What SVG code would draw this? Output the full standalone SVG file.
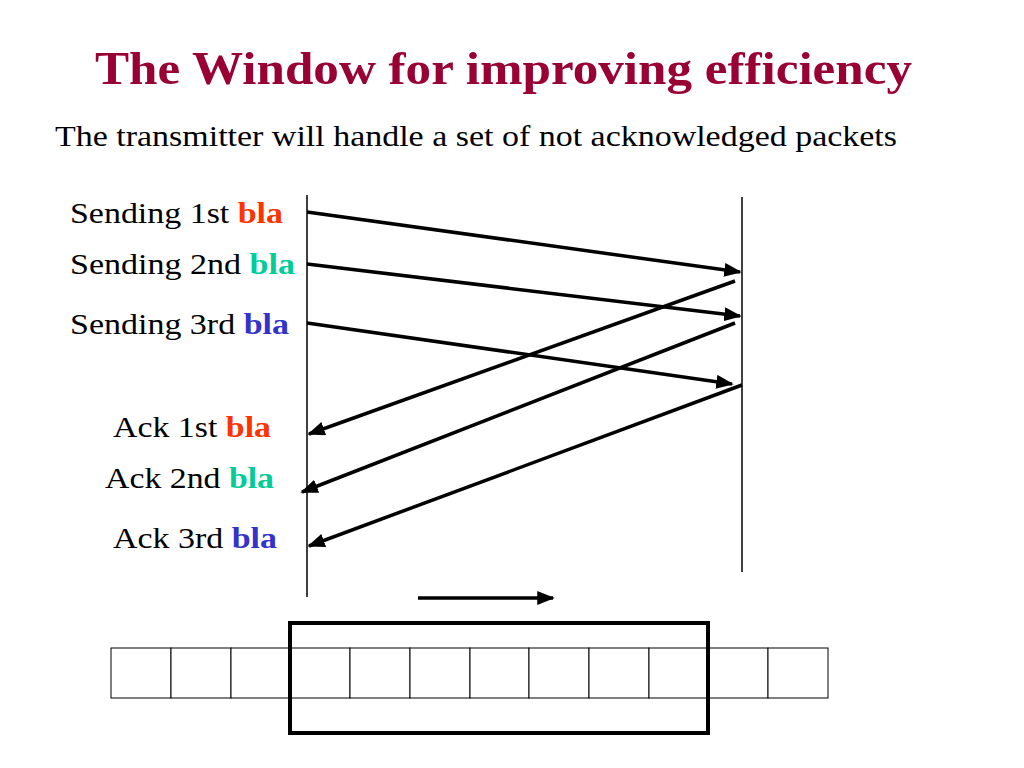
<svg xmlns="http://www.w3.org/2000/svg" width="1024" height="768" viewBox="0 0 1024 768">
<style>
text{font-family:"Liberation Serif","Times New Roman",serif;fill:#000}
.lbl{font-size:29px}
.b{font-weight:bold}
.r{fill:#ff3300}.g{fill:#00cc99}.u{fill:#3333cc}
.ln{stroke:#000;stroke-width:1.5}
.ar{stroke:#000;stroke-width:3.5;marker-end:url(#ah)}
.cell{fill:#fff;stroke:#000;stroke-width:1}
</style>
<defs><marker id="ah" markerWidth="5" markerHeight="4" refX="4.5" refY="2" orient="auto" markerUnits="strokeWidth"><path d="M0,0L5,2L0,4Z" fill="#000"/></marker></defs>
<rect width="1024" height="768" fill="#fff"/>
<text x="95" y="84" font-size="47" font-weight="bold" textLength="817" lengthAdjust="spacingAndGlyphs" style="fill:#990033">The Window for improving efficiency</text>
<text x="55" y="146" font-size="29" textLength="842" lengthAdjust="spacingAndGlyphs">The transmitter will handle a set of not acknowledged packets</text>
<g id="labels">
<text class="lbl" x="70" y="223" textLength="213" lengthAdjust="spacingAndGlyphs">Sending 1st <tspan class="b r">bla</tspan></text>
<text class="lbl" x="70" y="274" textLength="225" lengthAdjust="spacingAndGlyphs">Sending 2nd <tspan class="b g">bla</tspan></text>
<text class="lbl" x="70" y="334" textLength="219" lengthAdjust="spacingAndGlyphs">Sending 3rd <tspan class="b u">bla</tspan></text>
<text class="lbl" x="113" y="437" textLength="158" lengthAdjust="spacingAndGlyphs">Ack 1st <tspan class="b r">bla</tspan></text>
<text class="lbl" x="105" y="488" textLength="169" lengthAdjust="spacingAndGlyphs">Ack 2nd <tspan class="b g">bla</tspan></text>
<text class="lbl" x="113" y="548" textLength="164" lengthAdjust="spacingAndGlyphs">Ack 3rd <tspan class="b u">bla</tspan></text>
</g>
<g id="timelines">
<line class="ln" x1="307" y1="195" x2="307" y2="597"/>
<line class="ln" x1="742" y1="197" x2="742" y2="572"/>
</g>
<g id="connectors">
<line class="ar" x1="307" y1="212" x2="740" y2="272"/>
<line class="ar" x1="307" y1="264" x2="740" y2="316"/>
<line class="ar" x1="307" y1="323" x2="732" y2="384"/>
<line class="ar" x1="735" y1="281" x2="309" y2="434"/>
<line class="ar" x1="735" y1="323" x2="302" y2="492"/>
<line class="ar" x1="742" y1="385" x2="309" y2="546"/>
<line class="ar" x1="418" y1="598" x2="553" y2="598"/>
</g>
<g id="cells">
<rect class="cell" x="111" y="648" width="60" height="50"/>
<rect class="cell" x="171" y="648" width="60" height="50"/>
<rect class="cell" x="231" y="648" width="60" height="50"/>
<rect class="cell" x="291" y="648" width="59" height="50"/>
<rect class="cell" x="350" y="648" width="60" height="50"/>
<rect class="cell" x="410" y="648" width="60" height="50"/>
<rect class="cell" x="470" y="648" width="59" height="50"/>
<rect class="cell" x="529" y="648" width="60" height="50"/>
<rect class="cell" x="589" y="648" width="60" height="50"/>
<rect class="cell" x="649" y="648" width="59" height="50"/>
<rect class="cell" x="708" y="648" width="60" height="50"/>
<rect class="cell" x="768" y="648" width="60" height="50"/>
</g>
<g id="window"><rect x="290" y="623" width="418" height="110" fill="none" stroke="#000" stroke-width="4"/></g>
</svg>
